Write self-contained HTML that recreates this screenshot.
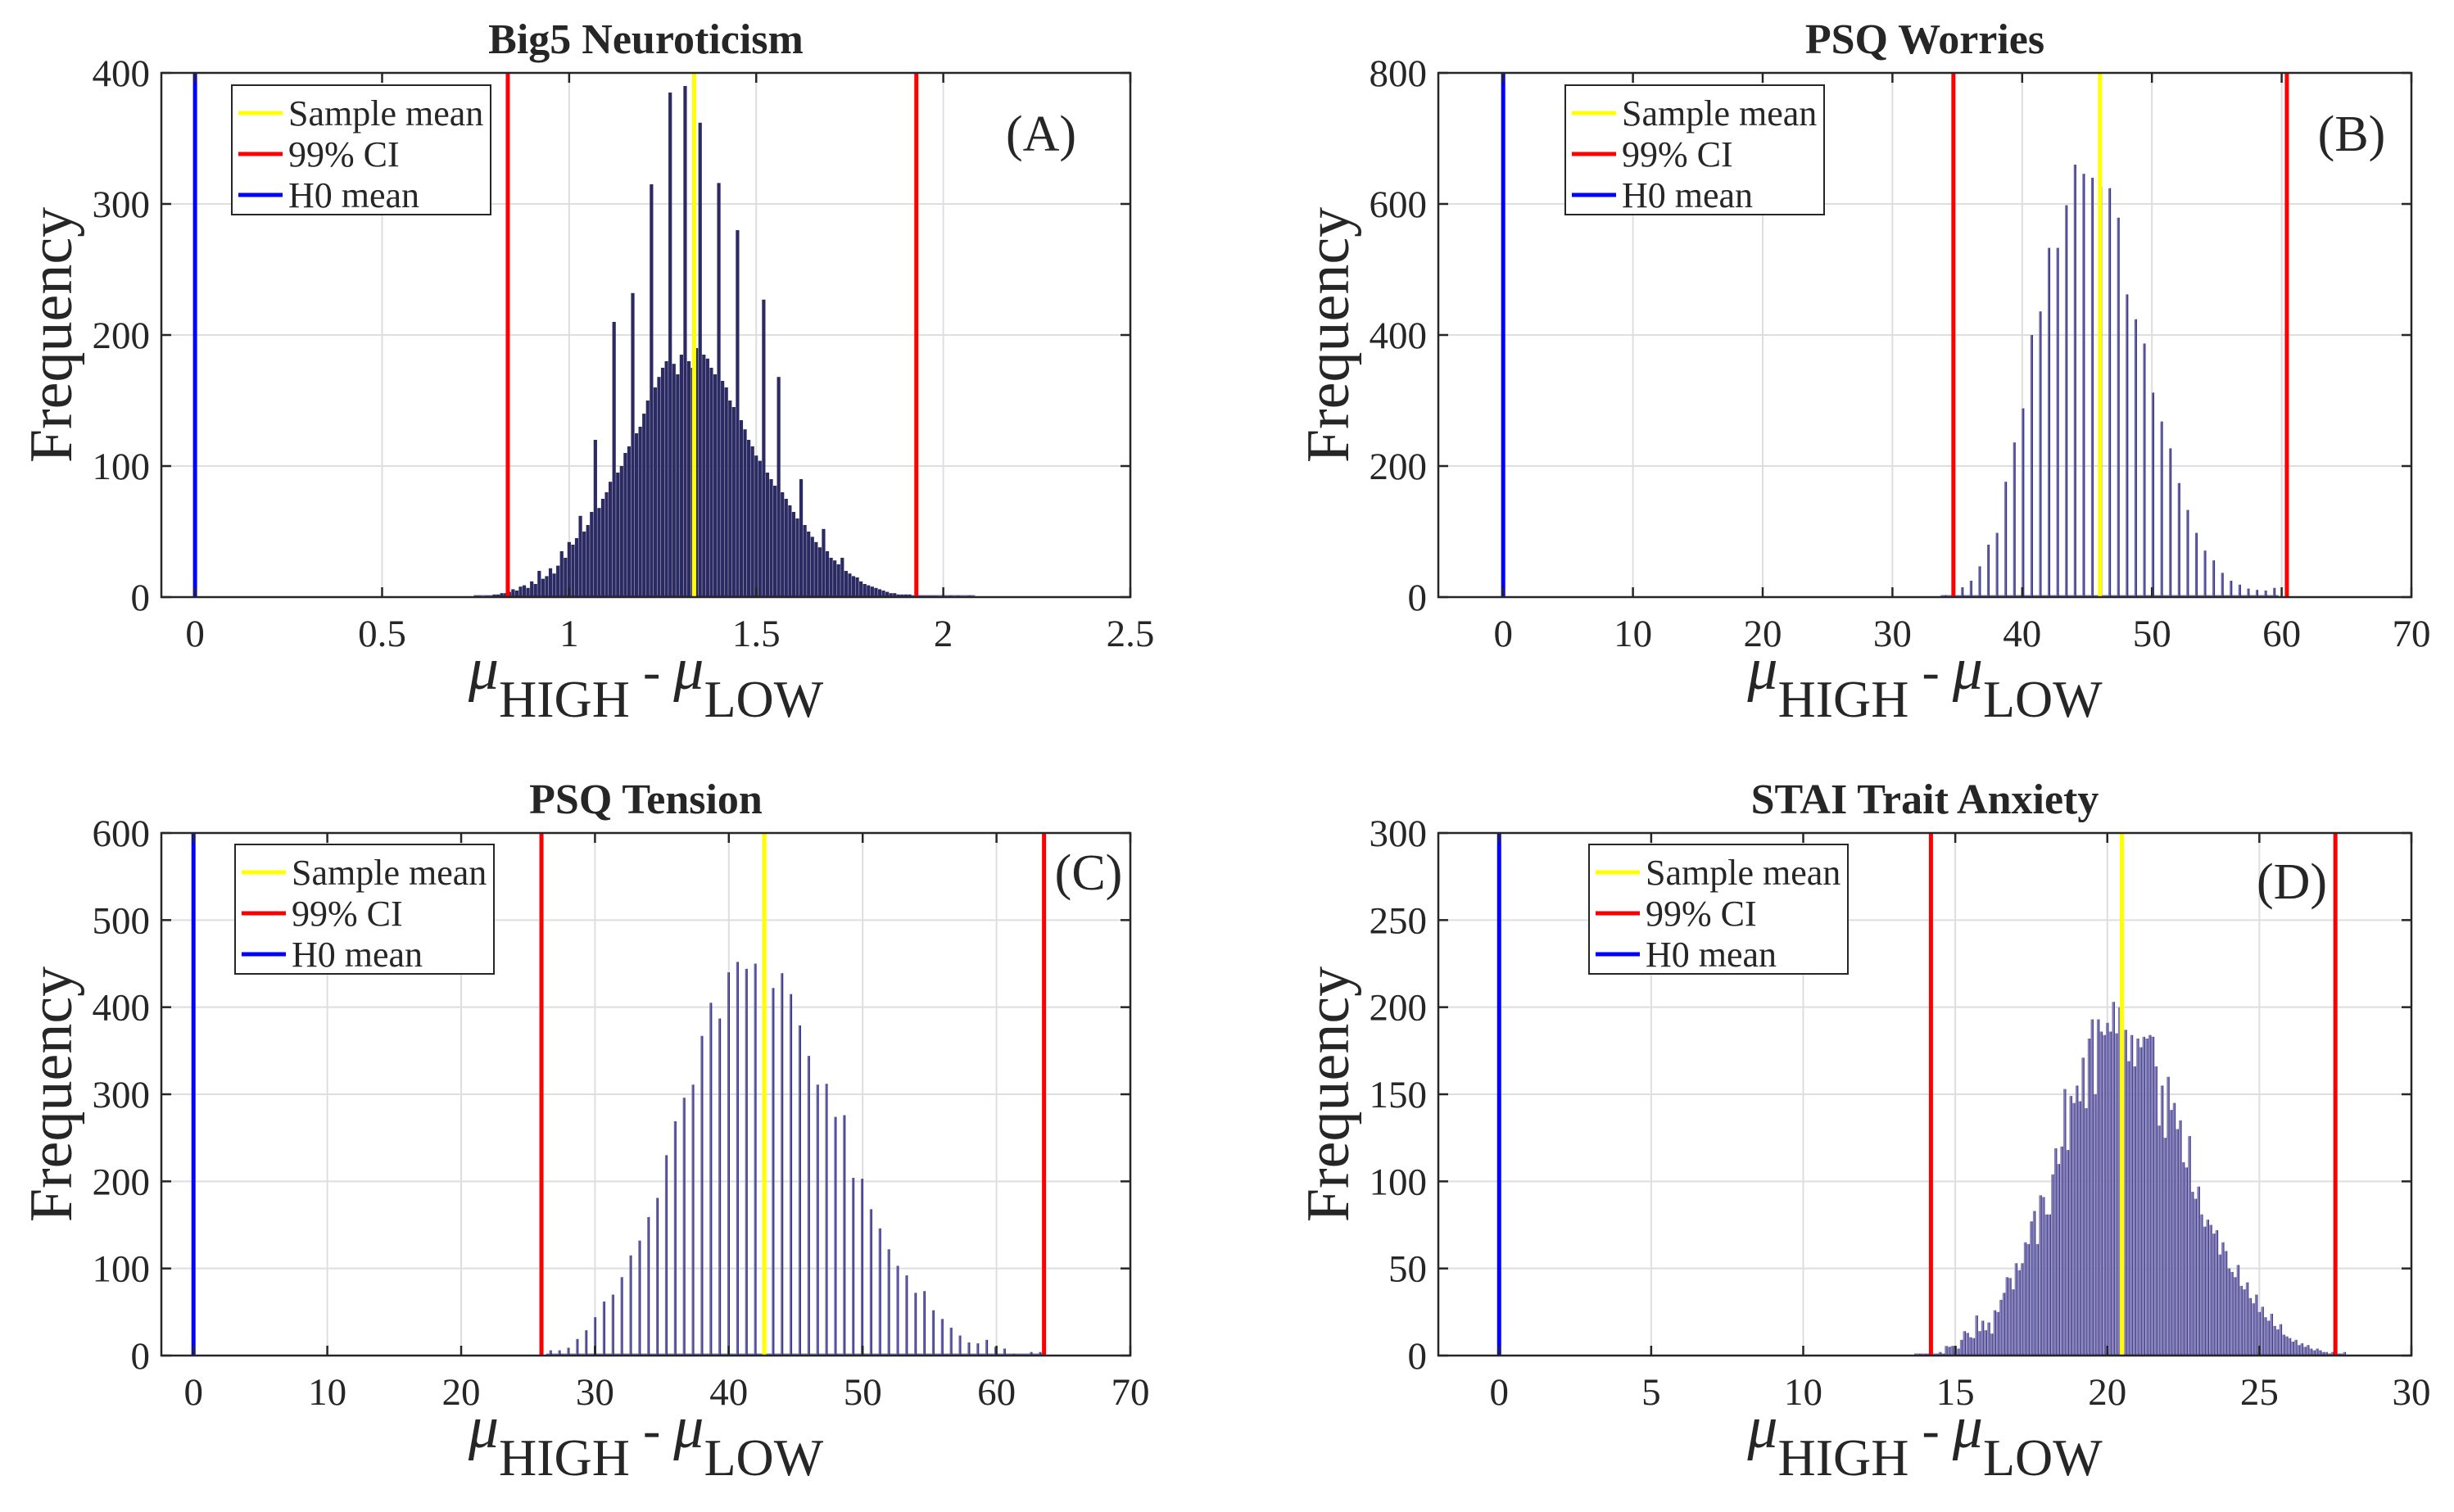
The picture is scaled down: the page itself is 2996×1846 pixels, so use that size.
<!DOCTYPE html>
<html><head><meta charset="utf-8">
<style>
html,body{margin:0;padding:0;background:#fff;}
svg{display:block;}
text{font-family:"Liberation Serif","Times New Roman",serif;fill:#262626;}
</style></head>
<body>
<svg id="fig" width="2996" height="1846" viewBox="0 0 2996 1846" xmlns="http://www.w3.org/2000/svg"></svg>
<script>
// ---- Panel A: Big5 Neuroticism (bin start 0.75, width 0.01)
const aStart = 0.75, aBin = 0.01;
const aCounts = [1,1,0,1,1, 2,2,3,3,4, 6,5,8,9,7, 12,10,20,14,16, 22,18,24,35,30,
 42,40,45,62,50, 55,65,120,68,75, 80,88,210,95,100, 110,115,232,125,130,
 140,150,315,160,168, 175,180,385,178,170, 185,390,180,175,190, 362,185,182,175,170,
 316,165,160,150,145, 280,135,128,120,115, 108,104,227,95,90, 85,168,80,75,70,
 65,60,90,55,50, 46,42,38,52,35, 30,28,25,30,20, 18,16,15,12,10, 9,8,7,6,5,
 4,3,3,2,2, 2,2,1,1,1, 1,1,1,1,0, 1,0,1,0,1,0,0,1,0];
const aRefs = [0.836, 1.928, 1.334, 0];
const aXTicks = [0,0.5,1,1.5,2,2.5];
const aYTicks = [0,100,200,300,400];

// ---- Panel B: PSQ Worries (bin start 34.05, width 0.668)
const bStart = 34.05, bBin = 0.668;
const bCounts = [3,8,15,25,47,80,98,176,236,288,400,436,533,533,598,660,646,640,626,624,579,462,424,387,312,268,227,174,133,98,71,56,37,25,19,13,11,10,14];
const bRefs = [34.7, 60.4, 46.0, 0];
const bXTicks = [0,10,20,30,40,50,60,70];
const bYTicks = [0,200,400,600,800];

// ---- Panel C: PSQ Tension (bin start 26.68, width 0.665)
const cStart = 26.68, cBin = 0.665;
const cCounts = [6,6,9,19,29,44,62,70,90,115,132,159,181,230,269,296,311,367,405,387,440,452,444,450,445,422,439,415,379,344,311,312,274,276,204,203,168,146,122,103,92,72,74,52,42,32,23,15,14,18,10,8,2,1,4,4];
const cRefs = [26.0, 63.55, 42.65, 0];
const cXTicks = [0,10,20,30,40,50,60,70];
const cYTicks = [0,100,200,300,400,500,600];

// ---- Panel D: STAI Trait Anxiety (bin start 13.7, width 0.1)
const dStart = 13.7, dBin = 0.1;
const dCounts = [0,1,0,1,1,2,0,1,2,1,
 5.5,5,5.5,5.5,4,9,14,13,10.5,10, 23,14,20,14.5,19,12.6,26,25,32,36,
 45,44.5,38,53,49,53,65,64,77,83, 64,92,91,81,81,104,119,110,120,153,
 118,149,145,155,146,171,142,182,193,150, 193,186,184,191,186,203,185,200,190,187,
 169,184,166,182,177,183,182,184,183,166, 132,155,125,160,141,145,130,135,111,108,
 126,94,90,97,81,74,78, 75,70,72,58,65,60,
 50,48,45,52,40,38,42,33,30,35, 25,28,22,20,24,17,15,18,12,11,
 10,8,9,6,7,5,6,4,3,4, 3,2,2,1,2,1,1,0,2];
const dRefs = [14.2, 27.5, 20.48, 0];
const dXTicks = [0,5,10,15,20,25,30];
const dYTicks = [0,50,100,150,200,250,300];

const legendLabels = ["Sample mean","99% CI","H0 mean"];

const NS = "http://www.w3.org/2000/svg";
const fig = document.getElementById('fig');
function mk(tag, attrs, parent){
  const e = document.createElementNS(NS, tag);
  for (const k in attrs) e.setAttribute(k, attrs[k]);
  (parent||fig).appendChild(e);
  return e;
}

function panel(p){
  const g = mk('g', {});
  
  
  const xs = v => p.L + (v - p.xmin) / (p.xmax - p.xmin) * (p.R - p.L);
  const ys = v => p.B - v / p.ymax * (p.B - p.T);

  p.xticks.forEach(t => {
    const l = mk('line', {x1:xs(t), x2:xs(t), y1:p.T, y2:p.B, stroke:'#dedede', 'stroke-width':2}, g);
    
    
  });
  p.yticks.forEach(t => {
    const l = mk('line', {x1:p.L, x2:p.R, y1:ys(t), y2:ys(t), stroke:'#dedede', 'stroke-width':2}, g);
    
    
  });

  const n = p.counts.length;
  const bl = mk('line', {x1:xs(p.start - p.bin*0.5), x2:xs(p.start + (n-0.5)*p.bin), y1:p.B-1, y2:p.B-1, stroke:'#7c78b6', 'stroke-width':3}, g);
  
  

  p.counts.forEach((c, i) => {
    const cx = xs(p.start + i * p.bin);
    const y = ys(c);
    const r = mk('rect', {x:cx - p.bw/2, y:y, width:p.bw, height:Math.max(0, p.B - y), fill:p.barFill}, g);
    
    
    if (p.edge) {
      const e = mk('line', {x1:cx + p.bw/2 - 0.5, x2:cx + p.bw/2 - 0.5, y1:y, y2:p.B, stroke:p.edge, 'stroke-width':1}, g);
      
      
    }
  });

  const refColors = ['#ff0000','#ff0000','#ffff00','#0000ff'];
  const refNames = ['ci-lower-line','ci-upper-line','sample-mean-line','h0-mean-line'];
  p.refs.forEach((v, i) => {
    const l = mk('line', {x1:xs(v), x2:xs(v), y1:p.T, y2:p.B, stroke:refColors[i], 'stroke-width':5}, g);
    
    
  });

  const box = mk('rect', {x:p.L, y:p.T, width:p.R-p.L, height:p.B-p.T, fill:'none', stroke:'#262626', 'stroke-width':2.5}, g);
  
  

  p.xticks.forEach(t => {
    const x = xs(t);
    mk('line', {x1:x, x2:x, y1:p.B, y2:p.B-12, stroke:'#262626', 'stroke-width':2.5}, g);
    mk('line', {x1:x, x2:x, y1:p.T, y2:p.T+12, stroke:'#262626', 'stroke-width':2.5}, g);
    const tx = mk('text', {x:x, y:p.B+60, 'font-size':47, 'text-anchor':'middle'}, g);
    tx.textContent = String(t);
    
    
  });
  p.yticks.forEach(t => {
    const y = ys(t);
    mk('line', {x1:p.L, x2:p.L+12, y1:y, y2:y, stroke:'#262626', 'stroke-width':2.5}, g);
    mk('line', {x1:p.R, x2:p.R-12, y1:y, y2:y, stroke:'#262626', 'stroke-width':2.5}, g);
    const ty = mk('text', {x:p.L-14, y:y+16, 'font-size':47, 'text-anchor':'end'}, g);
    ty.textContent = String(t);
    
    
  });

  const cxm = (p.L + p.R) / 2;
  const tt = mk('text', {x:cxm, y:p.T-24, 'font-size':52, 'font-weight':'bold', 'text-anchor':'middle'}, g);
  tt.textContent = p.title;
  
  

  const yc = (p.T + p.B) / 2;
  const yl = mk('text', {x:0, y:0, 'font-size':74, 'text-anchor':'middle', transform:`translate(${p.L-110},${yc}) rotate(-90)`}, g);
  yl.textContent = 'Frequency';
  
  

  const xl = mk('text', {x:cxm, y:p.B+112, 'text-anchor':'middle', 'font-size':64}, g);
  
  
  const parts = [['μ',true,0],['HIGH',false,34],[' - ',false,-34],['μ',true,0],['LOW',false,34]];
  parts.forEach(([s, it, dy]) => {
    const ts = mk('tspan', {dy:dy, 'font-size': it ? 74 : 64}, xl);
    if (it) ts.setAttribute('font-style', 'italic');
    ts.textContent = s;
  });

  const lg = mk('g', {}, g);
  
  
  mk('rect', {x:p.lx, y:p.ly, width:316, height:158, fill:'#fff', stroke:'#262626', 'stroke-width':2}, lg);
  const lc = ['#ffff00','#ff0000','#0000ff'];
  legendLabels.forEach((s, i) => {
    const yy = p.ly + 34 + i * 50;
    const ln = mk('line', {x1:p.lx+8, x2:p.lx+62, y1:yy, y2:yy, stroke:lc[i], 'stroke-width':5}, lg);
    
    
    const t = mk('text', {x:p.lx+69, y:yy+15, 'font-size':44}, lg);
    t.textContent = s;
    
    
  });

  const pl = mk('text', {x:p.px, y:p.py, 'font-size':62, 'text-anchor':'middle'}, g);
  pl.textContent = p.letter;
  
  
}

panel({key:'a', L:197, R:1380, T:89, B:729, xmin:-0.09, xmax:2.5, ymax:400,
  xticks:aXTicks, yticks:aYTicks, counts:aCounts, start:aStart, bin:aBin, bw:4.2,
  barFill:'#2c2a62', edge:null, refs:aRefs, title:'Big5 Neuroticism',
  lx:283, ly:104, letter:'(A)', px:1271, py:184});
panel({key:'b', L:1756, R:2944, T:89, B:729, xmin:-5, xmax:70, ymax:800,
  xticks:bXTicks, yticks:bYTicks, counts:bCounts, start:bStart, bin:bBin, bw:3,
  barFill:'#6a66aa', edge:'#2c2a7a', refs:bRefs, title:'PSQ Worries',
  lx:1911, ly:104, letter:'(B)', px:2871, py:184});
panel({key:'c', L:197, R:1380, T:1017, B:1655, xmin:-2.4, xmax:70, ymax:600,
  xticks:cXTicks, yticks:cYTicks, counts:cCounts, start:cStart, bin:cBin, bw:3,
  barFill:'#6a66aa', edge:'#2c2a7a', refs:cRefs, title:'PSQ Tension',
  lx:287, ly:1031, letter:'(C)', px:1329, py:1086});
panel({key:'d', L:1756, R:2944, T:1017, B:1655, xmin:-2, xmax:30, ymax:300,
  xticks:dXTicks, yticks:dYTicks, counts:dCounts, start:dStart, bin:dBin, bw:3.4,
  barFill:'#847fb8', edge:'#3a3784', refs:dRefs, title:'STAI Trait Anxiety',
  lx:1940, ly:1031, letter:'(D)', px:2798, py:1097});
</script>
</body></html>
